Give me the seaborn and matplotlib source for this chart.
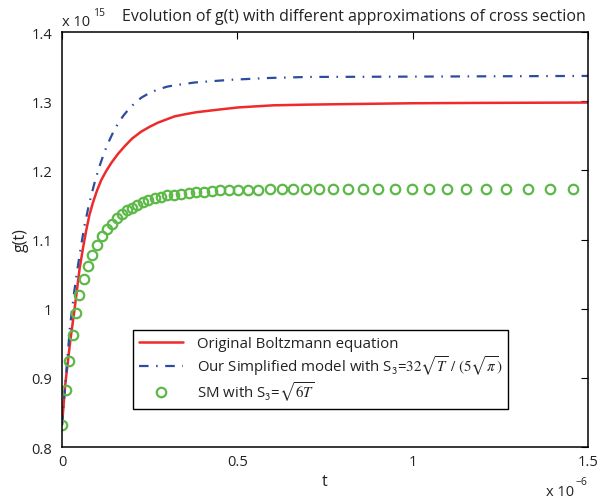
import matplotlib
matplotlib.use("Agg")
import matplotlib.pyplot as plt
import numpy as np
import pandas as pd
import seaborn as sns
from matplotlib.ticker import FuncFormatter

# values; t in units of 1e-6, g in units of 1e15
t_boltzmann = [0.0, 0.009, 0.023, 0.036, 0.050, 0.060, 0.069, 0.078, 0.088, 0.100,
               0.112, 0.126, 0.141, 0.160, 0.179, 0.200, 0.226, 0.250, 0.274, 0.300,
               0.321, 0.350, 0.383, 0.45, 0.504, 0.603, 0.70, 0.85, 1.0, 1.2, 1.5]
g_boltzmann = [0.832, 0.889, 0.951, 1.000, 1.057, 1.088, 1.113, 1.135, 1.153, 1.171,
               1.186, 1.199, 1.211, 1.224, 1.235, 1.246, 1.256, 1.263, 1.269, 1.274,
               1.278, 1.281, 1.284, 1.288, 1.291, 1.294, 1.295, 1.296, 1.297, 1.2975, 1.298]

t_simplified = [0.0, 0.013, 0.023, 0.035, 0.046, 0.055, 0.065, 0.075, 0.084, 0.095,
                0.107, 0.120, 0.131, 0.145, 0.160, 0.175, 0.188, 0.205, 0.226, 0.250,
                0.274, 0.300, 0.321, 0.350, 0.378, 0.43, 0.485, 0.589, 0.70, 1.0, 1.5]
g_simplified = [0.832, 0.913, 0.975, 1.025, 1.064, 1.093, 1.122, 1.146, 1.165, 1.186,
                1.206, 1.225, 1.239, 1.254, 1.268, 1.279, 1.287, 1.296, 1.305, 1.312,
                1.317, 1.321, 1.323, 1.325, 1.327, 1.329, 1.331, 1.3335, 1.335, 1.3355, 1.3365]

t_sm = [0.000, 0.011, 0.020, 0.031, 0.039, 0.049, 0.063, 0.074, 0.086, 0.100,
        0.114, 0.127, 0.142, 0.156, 0.170, 0.185, 0.199, 0.214, 0.230, 0.246,
        0.264, 0.282, 0.299, 0.319, 0.339, 0.361, 0.382, 0.405, 0.428, 0.451,
        0.475, 0.502, 0.530, 0.560, 0.593, 0.627, 0.660, 0.696, 0.733, 0.773,
        0.816, 0.858, 0.901, 0.950, 0.998, 1.047, 1.098, 1.152, 1.209, 1.266,
        1.329, 1.391, 1.457]
g_sm = [0.832, 0.883, 0.925, 0.962, 0.994, 1.020, 1.043, 1.061, 1.078, 1.092,
        1.105, 1.115, 1.123, 1.131, 1.137, 1.142, 1.146, 1.150, 1.154, 1.157,
        1.160, 1.162, 1.164, 1.165, 1.166, 1.167, 1.168, 1.169, 1.170, 1.171,
        1.171, 1.172, 1.172, 1.172, 1.173, 1.173, 1.173, 1.173, 1.173, 1.173,
        1.173, 1.173, 1.173, 1.173, 1.173, 1.173, 1.173, 1.173, 1.173, 1.173,
        1.173, 1.173, 1.173]

labels = [
    "Original Boltzmann equation",
    r"Our Simplified model with S$_\mathsf{3}$=$32\sqrt{T}\ /\ (5\sqrt{\pi})$",
    r"SM with S$_\mathsf{3}$=$\sqrt{6T}$",
]
x_ticks = [0, 0.5, 1, 1.5]
y_ticks = [0.8, 0.9, 1.0, 1.1, 1.2, 1.3, 1.4]

RED = "#EE2A2A"
BLUE = "#2D4C9F"
GREEN = "#5CB947"
INK = "#222222"

sns.set_theme(style="white")
plt.rcParams["font.family"] = ["Open Sans", "DejaVu Sans"]
plt.rcParams["mathtext.fontset"] = "stix"
FS_TICK = 10.5
FS = 11.5
FS_LEG = 10.8

W, H = 597, 502
fig = plt.figure(figsize=(W / 100, H / 100), dpi=100)
ax = fig.add_axes([62 / W, (H - 448) / H, 526 / W, 415 / H])

df_b = pd.DataFrame({"t": t_boltzmann, "g": g_boltzmann})
df_s = pd.DataFrame({"t": t_simplified, "g": g_simplified})
df_m = pd.DataFrame({"t": t_sm, "g": g_sm})

sns.lineplot(data=df_b, x="t", y="g", ax=ax, color=RED, linewidth=1.8,
             estimator=None, sort=False, label=labels[0])
sns.lineplot(data=df_s, x="t", y="g", ax=ax, color=BLUE, linewidth=1.6,
             estimator=None, sort=False, label=labels[1])
ax.lines[-1].set_dashes([4.3, 3.4, 0.7, 3.4])
sns.lineplot(data=df_m, x="t", y="g", ax=ax, color=GREEN, linestyle="",
             marker="o", markersize=6.8, markerfacecolor="none",
             markeredgecolor=GREEN, markeredgewidth=1.6,
             estimator=None, sort=False, label=labels[2])

ax.set_xlim(0, 1.5)
ax.set_ylim(0.8, 1.4)
ax.set_xticks(x_ticks)
ax.set_yticks(y_ticks)
fmt = FuncFormatter(lambda v, _: f"{v:g}")
ax.xaxis.set_major_formatter(fmt)
ax.yaxis.set_major_formatter(fmt)
ax.tick_params(direction="in", top=True, right=True, length=5, width=0.8,
               labelsize=FS_TICK, color="black", labelcolor=INK)
ax.tick_params(axis="x", pad=5)
ax.tick_params(axis="y", pad=7)
for sp in ax.spines.values():
    sp.set_color("black")
    sp.set_linewidth(1.1)

ax.set_xlabel("t", fontsize=FS, color=INK)
ax.set_ylabel("g(t)", fontsize=FS, color=INK)
ax.xaxis.set_label_coords(0.5, -(474 - 448) / 415)
ax.yaxis.set_label_coords(-(62 - 29) / 526, 0.5)

leg = ax.legend(loc="upper left", bbox_to_anchor=((133 - 62) / 526, (448 - 331) / 415),
                fontsize=FS_LEG, frameon=True, fancybox=False, framealpha=1,
                edgecolor="black", handlelength=2.9, handletextpad=0.95,
                labelspacing=0.15, borderpad=0.4, borderaxespad=0)
leg.get_frame().set_linewidth(1.0)
for txt in leg.get_texts():
    txt.set_color(INK)

# MATLAB-style exponent labels and title
fig.text(62 / W, 1 - 26 / H, "x 10", fontsize=FS_TICK, ha="left", va="baseline", color=INK)
fig.text(93 / W, 1 - 16 / H, "15", fontsize=7.5, ha="left", va="baseline", color=INK)
fig.text(122 / W, 1 - 21 / H,
         "Evolution of g(t) with different approximations of cross section",
         fontsize=FS, ha="left", va="baseline", color=INK)
fig.text(546 / W, 1 - 496 / H, "x 10", fontsize=FS_TICK, ha="left", va="baseline", color=INK)
fig.text(576 / W, 1 - 485 / H, "\u22126", fontsize=7.5, ha="left", va="baseline", color=INK)

fig.savefig("out.png", dpi=100)
